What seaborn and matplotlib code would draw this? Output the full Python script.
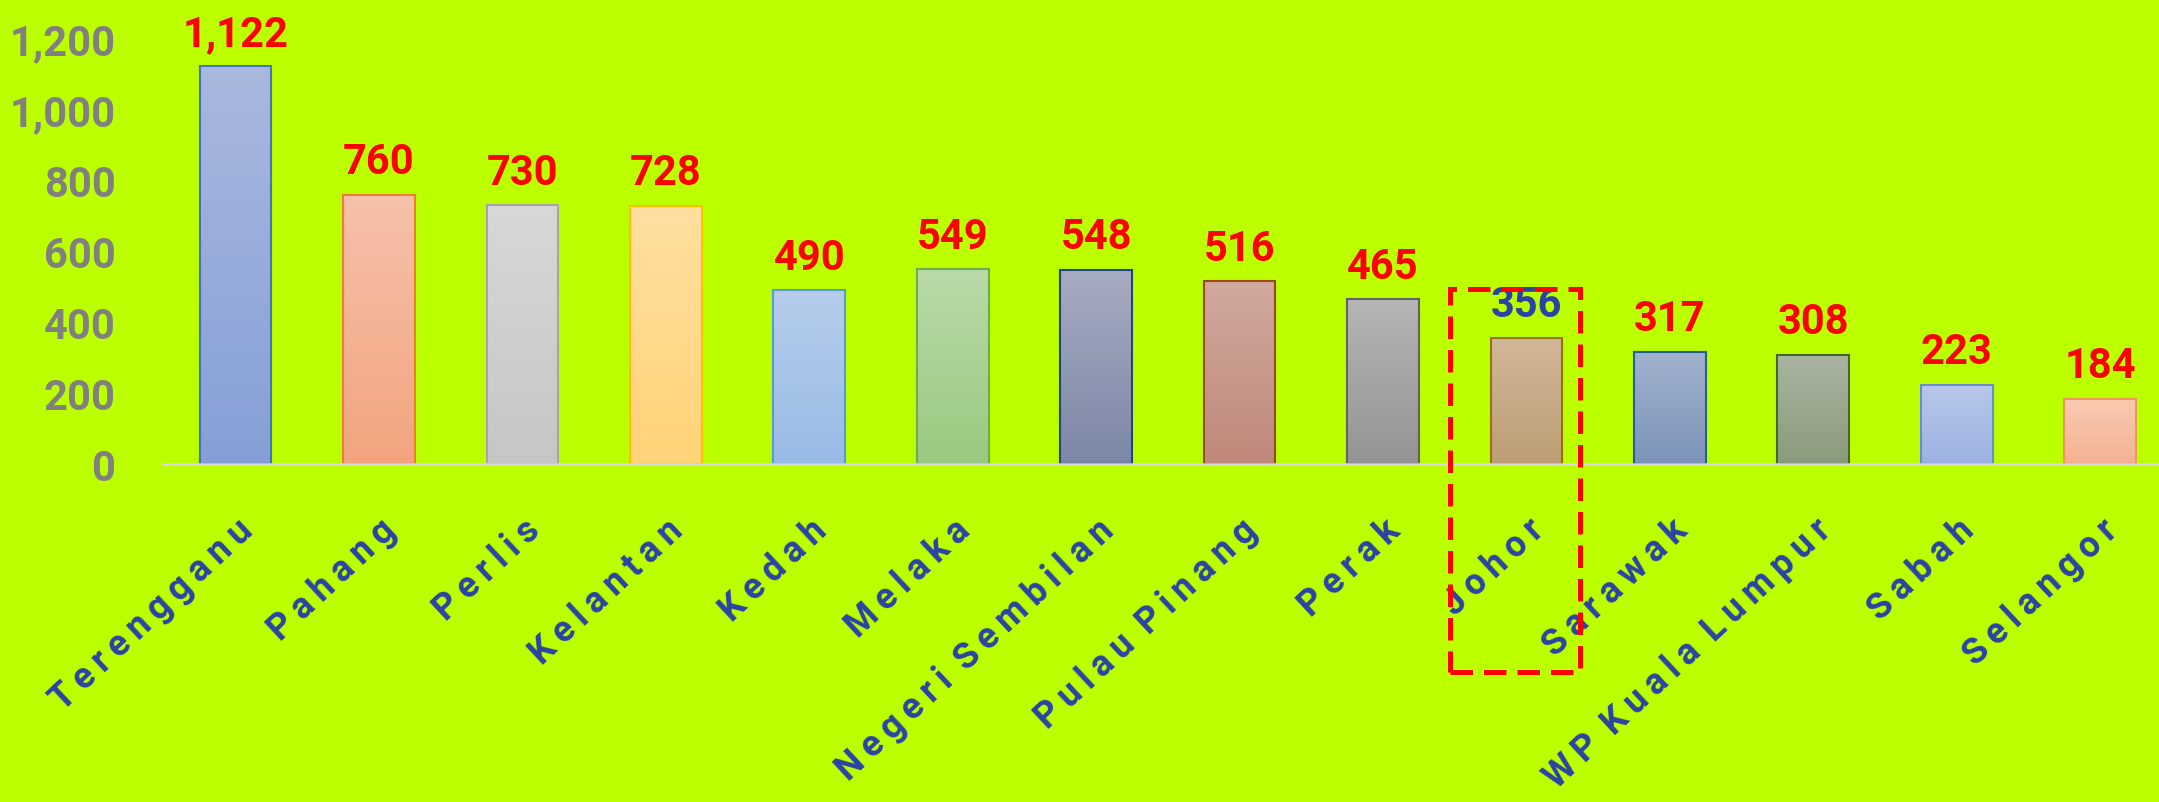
import numpy as np
import seaborn as sns
import matplotlib
matplotlib.use('Agg')
import matplotlib.pyplot as plt
from matplotlib.colors import to_rgb
from matplotlib.patches import Rectangle

# Data
states = ['Terengganu', 'Pahang', 'Perlis', 'Kelantan', 'Kedah', 'Melaka',
          'Negeri Sembilan', 'Pulau Pinang', 'Perak', 'Johor', 'Sarawak',
          'WP Kuala Lumpur', 'Sabah', 'Selangor']
counts = [1122, 760, 730, 728, 490, 549, 548, 516, 465, 356, 317, 308, 223, 184]
y_ticks = [0, 200, 400, 600, 800, 1000, 1200]
highlight = 'Johor'

# Colours (gradient top / bottom, outline)
top_cols = ['#aab8df', '#f6c1aa', '#d8d8d8', '#ffe0a0', '#b6cdeb', '#badaa8',
            '#a6acc1', '#d1a99e', '#b5b5b5', '#d2b799', '#a1b2cd', '#aab4a2',
            '#b8c8eb', '#f9cbb2']
bot_cols = ['#859fd6', '#f3a47f', '#c6c6c6', '#ffd378', '#98bbe6', '#9bc980',
            '#7c87a7', '#bf897b', '#949494', '#bd9e75', '#7d93ba', '#8a9b7c',
            '#9cb2e2', '#f4b192']
edge_cols = ['#4472c4', '#ed7d31', '#a5a5a5', '#ffc000', '#5b9bd5', '#70ad47',
             '#264478', '#9e480e', '#636363', '#997300', '#255e91', '#43682b',
             '#698ed0', '#f1975a']

BG = '#bbff00'
W, H = 2159, 803

sns.set_style('white')
plt.rcParams['font.family'] = ['Roboto', 'DejaVu Sans']

fig = plt.figure(figsize=(W / 100, H / 100), dpi=100, facecolor=BG)
ax = fig.add_axes([163 / W, (H - 465) / H, (W - 163) / W, 465 / H])
ax.set_facecolor(BG)

mid_cols = [tuple((np.array(to_rgb(t)) + np.array(to_rgb(b))) / 2)
            for t, b in zip(top_cols, bot_cols)]
sns.barplot(x=states, y=counts, hue=states, palette=mid_cols, legend=False,
            width=0.5, ax=ax, saturation=1)

bars = [b for c in ax.containers for b in c if b is not None]
bars.sort(key=lambda b: b.get_x())

# gradient fill inside every bar
for patch, t, b, e in zip(bars, top_cols, bot_cols, edge_cols):
    x0, y0 = patch.get_x(), patch.get_y()
    w, h = patch.get_width(), patch.get_height()
    grad = np.linspace(to_rgb(t), to_rgb(b), 256).reshape(256, 1, 3)
    im = ax.imshow(grad, extent=[x0, x0 + w, y0, y0 + h], origin='upper',
                   aspect='auto', zorder=patch.get_zorder() - 0.1)
    im.set_clip_path(patch)
    patch.set_facecolor('none')
    patch.set_edgecolor(e)
    patch.set_linewidth(1.5)

ax.set_xlim(-0.506, 13.41)
ax.set_ylim(0, 1312)

# value labels
for i, (s, v) in enumerate(zip(states, counts)):
    ax.annotate(f'{v:,}', (i, v), xytext=(0, 9), textcoords='offset points',
                ha='center', va='bottom', fontsize=30, fontweight='bold',
                color='#2a43a6' if s == highlight else '#ff0000')

# axes styling
for side in ['top', 'right', 'left']:
    ax.spines[side].set_visible(False)
ax.spines['bottom'].set_color('#d9d9d9')
ax.spines['bottom'].set_linewidth(1.8)

ax.set_yticks(y_ticks)
ax.set_yticklabels([f'{v:,}' for v in y_ticks], fontsize=30, color='#808080',
                   fontweight='bold')
ax.tick_params(axis='y', length=0, pad=34)

# letter-spaced category names
spaced = [' \u2009'.join('\u2009'.join(word) for word in s.split(' '))
          for s in states]
ax.set_xticks(range(len(states)))
ax.set_xticklabels(spaced, rotation=43, ha='right', va='top',
                   rotation_mode='anchor', fontsize=26, color='#2a43a6',
                   fontweight='bold')
ax.tick_params(axis='x', length=0, pad=34)
ax.set_xlabel('')
ax.set_ylabel('')

# dashed highlight box around Johor
fig.add_artist(Rectangle((1450 / W, 1 - 673 / H), 130 / W, 383 / H,
                         transform=fig.transFigure, fill=False,
                         edgecolor='#ff0000', linewidth=3.6,
                         linestyle=(0, (4.5, 2.2))))

fig.savefig('out.png', dpi=100, facecolor=BG)
